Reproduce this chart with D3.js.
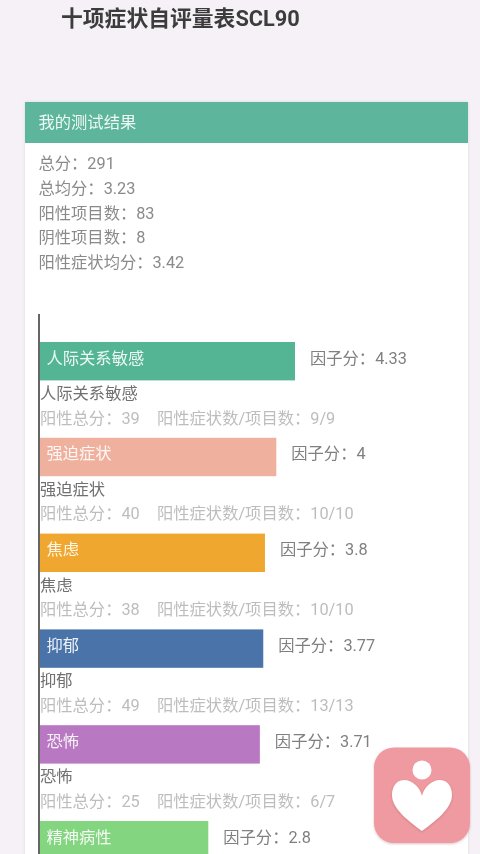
<!DOCTYPE html>
<html>
<head>
<meta charset="utf-8">
<script src="https://cdn.jsdelivr.net/npm/d3@7"></script>
<style>
  html, body { margin: 0; padding: 0; background: #f6f1f6; overflow: hidden; }
  svg { display: block; filter: blur(0.4px); }
  text { font-family: Roboto, "Noto Sans CJK SC", sans-serif; }
</style>
</head>
<body>
<div id="chart"><svg></svg></div>
<script>
const categories = ["人际关系敏感", "强迫症状", "焦虑", "抑郁", "恐怖", "精神病性"];
const factorScores = [4.33, 4, 3.8, 3.77, 3.71, 2.8];
const positiveTotals = [39, 40, 38, 49, 25, 0];
const positiveCounts = ["9/9", "10/10", "10/10", "13/13", "6/7", ""];
const barColors = ["#54b594", "#efb09d", "#f0a72f", "#4a74a9", "#b978c2", "#84d580"];
const summaryLines = ["总分：291", "总均分：3.23", "阳性项目数：83", "阴性项目数：8", "阳性症状均分：3.42"];

const width = 480;
const height = 854;
const barLeft = 40;
const barHeight = 38.4;

const svg = d3.select("#chart svg")
  .attr("width", width)
  .attr("height", height);

const defs = svg.append("defs");
const cardShadow = defs.append("filter").attr("id", "cardShadow")
  .attr("x", "-5%").attr("y", "-5%").attr("width", "110%").attr("height", "110%");
cardShadow.append("feDropShadow")
  .attr("dx", 0).attr("dy", 0).attr("stdDeviation", 1.5)
  .attr("flood-color", "#000").attr("flood-opacity", 0.1);
const iconShadow = defs.append("filter").attr("id", "iconShadow")
  .attr("x", "-20%").attr("y", "-20%").attr("width", "140%").attr("height", "140%");
iconShadow.append("feDropShadow")
  .attr("dx", 0).attr("dy", 1).attr("stdDeviation", 1)
  .attr("flood-color", "#8a3a40").attr("flood-opacity", 0.3);

// title
svg.append("text")
  .attr("x", 61).attr("y", 25.5)
  .attr("font-size", 21.8).attr("font-weight", 700)
  .attr("fill", "#3c3c3c")
  .text("十项症状自评量表SCL90");

// card + header
svg.append("rect")
  .attr("x", 25).attr("y", 102).attr("width", 443).attr("height", 800)
  .attr("fill", "#fff")
  .attr("filter", "url(#cardShadow)");
svg.append("rect")
  .attr("x", 25).attr("y", 102).attr("width", 443).attr("height", 41)
  .attr("fill", "#5db59b");
svg.append("text")
  .attr("x", 38.5).attr("y", 128)
  .attr("font-size", 16.3)
  .attr("fill", "#eef8f4")
  .text("我的测试结果");

// summary
svg.selectAll(".summary")
  .data(summaryLines)
  .join("text")
  .attr("class", "summary")
  .attr("x", 38.5)
  .attr("y", (d, i) => 169.3 + i * 24.6)
  .attr("font-size", 16.3)
  .attr("fill", "#8a8a8a")
  .text(d => d);

// bar length is not zero based in the original, this domain fits the drawn widths
const xScale = d3.scaleLinear().domain([-0.17, 4.33]).range([barLeft, 295]);
const yScale = d3.scalePoint().domain(categories).range([342, 821]);

const rows = svg.selectAll(".row")
  .data(categories)
  .join("g")
  .attr("class", "row")
  .attr("transform", d => `translate(0, ${yScale(d)})`);

rows.append("rect")
  .attr("x", barLeft)
  .attr("y", 0)
  .attr("width", (d, i) => xScale(factorScores[i]) - barLeft)
  .attr("height", barHeight)
  .attr("fill", (d, i) => barColors[i]);

rows.append("text")
  .attr("x", 46.5).attr("y", 21.5)
  .attr("font-size", 16.3)
  .attr("fill", "#fff")
  .attr("fill-opacity", 0.9)
  .text(d => d);

rows.append("text")
  .attr("x", (d, i) => xScale(factorScores[i]) + 15)
  .attr("y", 21.5)
  .attr("font-size", 16.3)
  .attr("fill", "#808080")
  .text((d, i) => "因子分：" + factorScores[i]);

// the last row runs off the bottom of the window, only its bar is visible
const fullRows = rows.filter((d, i) => positiveCounts[i]);

fullRows.append("text")
  .attr("x", 40).attr("y", 57)
  .attr("font-size", 16.3)
  .attr("fill", "#707070")
  .text(d => d);

fullRows.append("text")
  .attr("x", 40).attr("y", 81.5)
  .attr("font-size", 16.3)
  .attr("fill", "#bdbdbd")
  .text(d => "阳性总分：" + positiveTotals[categories.indexOf(d)]);

fullRows.append("text")
  .attr("x", 157).attr("y", 81.5)
  .attr("font-size", 16.3)
  .attr("fill", "#bdbdbd")
  .text(d => "阳性症状数/项目数：" + positiveCounts[categories.indexOf(d)]);

// axis line
svg.append("line")
  .attr("x1", barLeft - 1).attr("x2", barLeft - 1)
  .attr("y1", 314).attr("y2", height)
  .attr("stroke", "#666").attr("stroke-width", 2);

// floating app icon
const icon = svg.append("g").attr("transform", "translate(422, 795)");
icon.append("rect")
  .attr("x", -48).attr("y", -47.5).attr("width", 96).attr("height", 95.5)
  .attr("rx", 20)
  .attr("fill", "#ee9aa0")
  .attr("filter", "url(#iconShadow)");
icon.append("circle")
  .attr("cx", 0).attr("cy", -25).attr("r", 9.5)
  .attr("fill", "#fff");
icon.append("path")
  .attr("d", "M0,1 C-2,-8 -10,-15 -18,-15 C-27,-15 -30,-6 -30,0 C-30,14 -12,27 0,36 C12,27 30,14 30,0 C30,-6 27,-15 18,-15 C10,-15 2,-8 0,1 Z")
  .attr("fill", "#fff")
  .attr("filter", "url(#iconShadow)");
</script>
</body>
</html>
